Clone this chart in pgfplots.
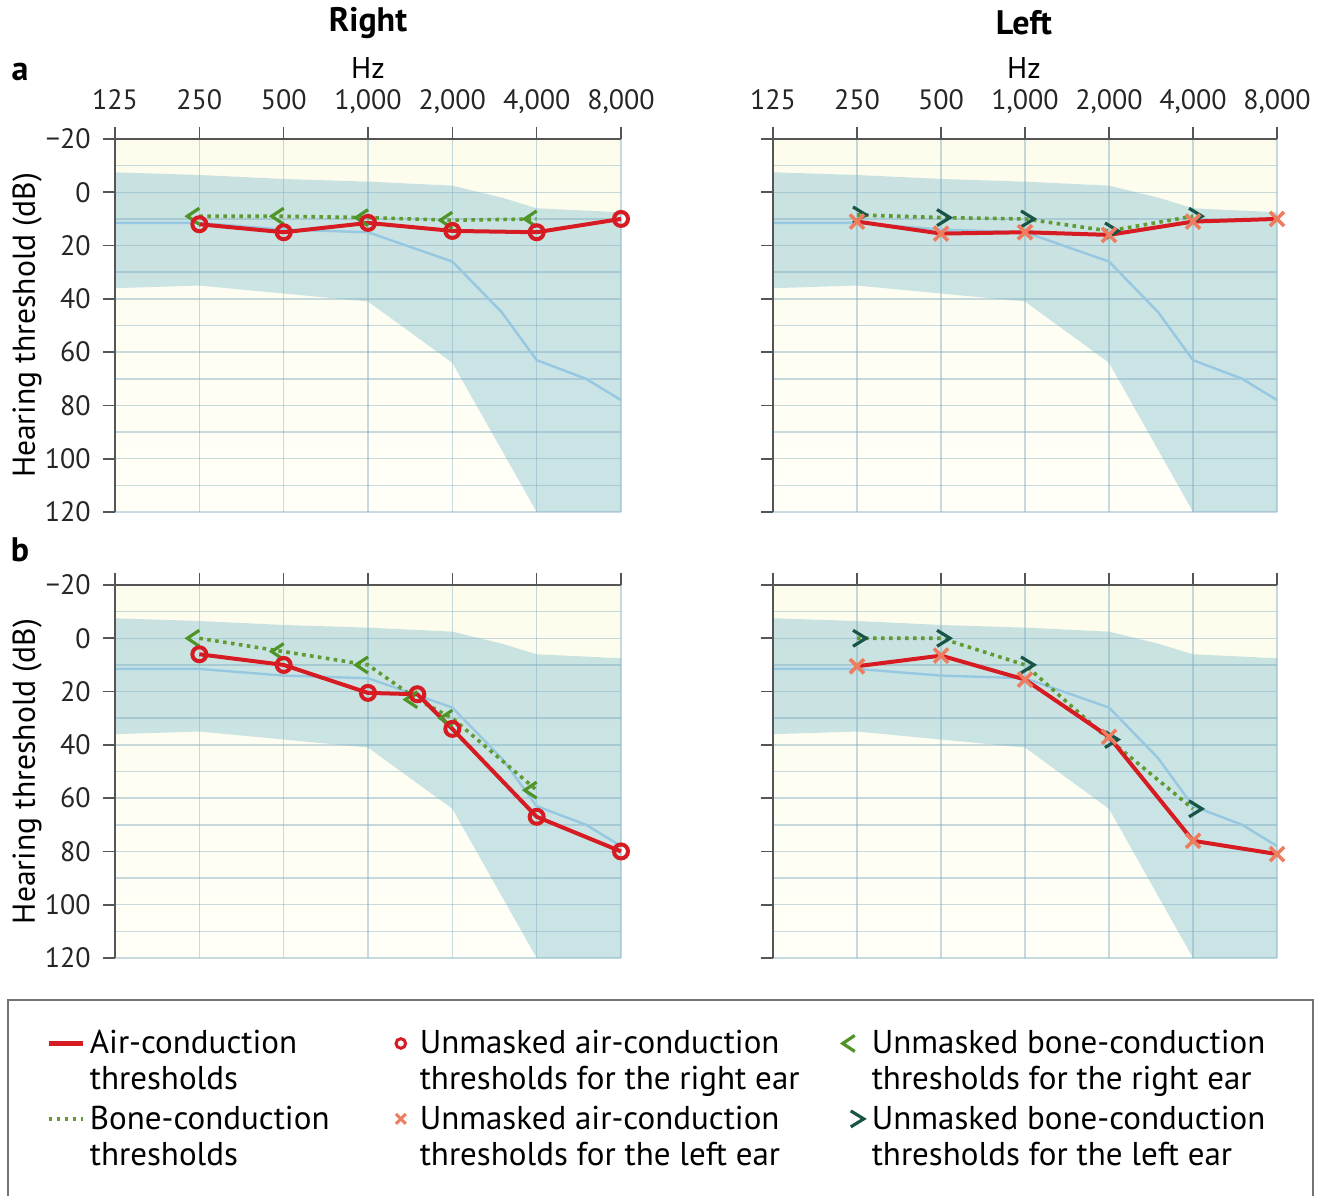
\documentclass[border=0pt]{standalone}
\usepackage{pgfplots}
\pgfplotsset{compat=1.18}
\usepackage{pgfplotstable}
\usepackage{fontspec}
\setmainfont{PT Sans}

\definecolor{redc}{RGB}{214,28,34}
\definecolor{creamc}{RGB}{255,250,222}
\definecolor{salmonc}{RGB}{238,125,95}
\definecolor{boneRc}{RGB}{78,148,38}
\definecolor{dotc}{RGB}{95,155,50}
\definecolor{boneLc}{RGB}{25,85,70}
\definecolor{bandc}{RGB}{160,206,216}
\definecolor{medc}{RGB}{150,200,225}
\definecolor{gridc}{RGB}{120,168,190}
\definecolor{axisc}{RGB}{85,85,85}
\definecolor{bgT}{RGB}{253,252,236}
\definecolor{bgB}{RGB}{255,255,248}

\pgfdeclareplotmark{bcR}{%
  \pgfpathmoveto{\pgfqpoint{0pt}{4pt}}%
  \pgfpathlineto{\pgfqpoint{-6pt}{0pt}}%
  \pgfpathlineto{\pgfqpoint{0pt}{-4pt}}%
  \pgfusepathqstroke}
\pgfdeclareplotmark{bcL}{%
  \pgfpathmoveto{\pgfqpoint{-2pt}{4pt}}%
  \pgfpathlineto{\pgfqpoint{4.5pt}{0pt}}%
  \pgfpathlineto{\pgfqpoint{-2pt}{-4pt}}%
  \pgfusepathqstroke}

\pgfplotstableread{
f db
125 -7.5
250 -6.5
500 -5
1000 -4
2000 -2.5
3000 2
4000 6
8000 7.5
8000 120
4000 120
2000 64
1000 41
500 38
250 35
125 36
}\bandtab
\pgfplotstableread{
f db
125 11.5
250 11.5
500 14
1000 15
2000 26
3000 45
4000 63
6000 70
8000 78
}\medtab
\pgfplotstableread{
f db
250 12
500 15
1000 11.5
2000 14.5
4000 15
8000 10
}\airAR
\pgfplotstableread{
f db
250 9
500 9
1000 9.5
2000 10.5
4000 10
}\boneAR
\pgfplotstableread{
f db
250 11
500 15.5
1000 15
2000 16
4000 11
8000 10
}\airAL
\pgfplotstableread{
f db
250 8.5
500 9.5
1000 10
2000 14.5
4000 9
}\boneAL
\pgfplotstableread{
f db
250 6
500 10
1000 20.5
1500 21
2000 34
4000 67
8000 80
}\airBR
\pgfplotstableread{
f db
250 0
500 5
1000 10
1500 23
2000 30
4000 57
}\boneBR
\pgfplotstableread{
f db
250 10.5
500 6.5
1000 15.5
2000 37
4000 76
8000 81
}\airBL
\pgfplotstableread{
f db
250 0
500 0
1000 10
2000 38
4000 64
}\boneBL

% legend text: width, lead space, first line, second line
\newcommand\legtxt[4]{\makebox[#1][l]{\hspace*{#2}\rule[-5pt]{0pt}{16pt}\smash{\rlap{\raisebox{-18pt}{#4}}}#3}}

\begin{document}
\begin{tikzpicture}
\path[use as bounding box] (0pt,0pt) rectangle (665.5pt,597.5pt);

% ===== a, right ear (frame)
\begin{axis}[at={(57.5pt,341.5pt)}, anchor=south west,
  scale only axis, width=253pt, height=186.5pt,
  xmode=log, log basis x=2, xmin=125, xmax=8000, ymin=-120, ymax=20,
  axis on top,
  xtick={125,250,500,1000,2000,4000,8000},
  ytick={-120,-100,-80,-60,-40,-20,0,20},
  minor ytick={-110,-90,-70,-50,-30,-10,10},
  grid=both,
  major grid style={draw=gridc, draw opacity=0.42, line width=0.75pt},
  minor grid style={draw=gridc, draw opacity=0.42, line width=0.75pt},
  axis line style={draw=none},
  tick align=outside, major tick length=6pt, minor tick length=0pt,
  xtick pos=right, ytick pos=left, xticklabel pos=right, yticklabel pos=left,
  every tick/.append style={draw=axisc, line width=0.8pt},
  tick label style={font=\fontsize{14}{16}\selectfont, text=black!85},
  xticklabel style={anchor=base, inner sep=0pt, yshift=8.5pt},
  yticklabel style={anchor=east, inner sep=0pt, xshift=-6pt},
  axis background/.style={shade, top color=bgT, bottom color=bgB},
  xticklabels={125,250,500,{1,000},{2,000},{4,000},{8,000}},
  yticklabels={120,100,80,60,40,20,0,−20}]
\addplot[draw=none, fill=bandc, fill opacity=0.55] table[x=f, y expr=-\thisrow{db}] {\bandtab};
\end{axis}
% ===== a, right ear (data)
\begin{axis}[at={(57.5pt,341.5pt)}, anchor=south west,
  scale only axis, width=253pt, height=186.5pt,
  xmode=log, log basis x=2, xmin=125, xmax=8000, ymin=-120, ymax=20,
  hide axis, clip=false]
\addplot[medc, line width=1.2pt] table[x=f, y expr=-\thisrow{db}] {\medtab};
\addplot[dotc, line width=1.8pt, dash pattern=on 1.8pt off 2.2pt, mark=bcR, mark options={solid, draw=boneRc, line width=1.6pt}] table[x=f, y expr=-\thisrow{db}] {\boneAR};
\addplot[redc, line width=2pt, mark=o, mark size=3.5pt, mark options={fill=creamc, draw=redc, line width=2pt}] table[x=f, y expr=-\thisrow{db}] {\airAR};
\draw[axisc, line width=1pt] (rel axis cs:0,0) -- (rel axis cs:0,1) -- (rel axis cs:1,1);
\end{axis}

% ===== a, left ear (frame)
\begin{axis}[at={(386.5pt,341.5pt)}, anchor=south west,
  scale only axis, width=252pt, height=186.5pt,
  xmode=log, log basis x=2, xmin=125, xmax=8000, ymin=-120, ymax=20,
  axis on top,
  xtick={125,250,500,1000,2000,4000,8000},
  ytick={-120,-100,-80,-60,-40,-20,0,20},
  minor ytick={-110,-90,-70,-50,-30,-10,10},
  grid=both,
  major grid style={draw=gridc, draw opacity=0.42, line width=0.75pt},
  minor grid style={draw=gridc, draw opacity=0.42, line width=0.75pt},
  axis line style={draw=none},
  tick align=outside, major tick length=6pt, minor tick length=0pt,
  xtick pos=right, ytick pos=left, xticklabel pos=right, yticklabel pos=left,
  every tick/.append style={draw=axisc, line width=0.8pt},
  tick label style={font=\fontsize{14}{16}\selectfont, text=black!85},
  xticklabel style={anchor=base, inner sep=0pt, yshift=8.5pt},
  yticklabel style={anchor=east, inner sep=0pt, xshift=-6pt},
  axis background/.style={shade, top color=bgT, bottom color=bgB},
  xticklabels={125,250,500,{1,000},{2,000},{4,000},{8,000}},
  yticklabels={}]
\addplot[draw=none, fill=bandc, fill opacity=0.55] table[x=f, y expr=-\thisrow{db}] {\bandtab};
\end{axis}
\begin{axis}[at={(386.5pt,341.5pt)}, anchor=south west,
  scale only axis, width=252pt, height=186.5pt,
  xmode=log, log basis x=2, xmin=125, xmax=8000, ymin=-120, ymax=20,
  hide axis, clip=false]
\addplot[medc, line width=1.2pt] table[x=f, y expr=-\thisrow{db}] {\medtab};
\addplot[dotc, line width=1.8pt, dash pattern=on 1.8pt off 2.2pt, mark=bcL, mark options={solid, draw=boneLc, line width=1.6pt}] table[x=f, y expr=-\thisrow{db}] {\boneAL};
\addplot[redc, line width=2pt, mark=x, mark size=5pt, mark options={draw=salmonc, line width=1.8pt}] table[x=f, y expr=-\thisrow{db}] {\airAL};
\draw[axisc, line width=1pt] (rel axis cs:0,0) -- (rel axis cs:0,1) -- (rel axis cs:1,1);
\end{axis}

% ===== b, right ear (frame)
\begin{axis}[at={(57.5pt,118.5pt)}, anchor=south west,
  scale only axis, width=253pt, height=186.5pt,
  xmode=log, log basis x=2, xmin=125, xmax=8000, ymin=-120, ymax=20,
  axis on top,
  xtick={125,250,500,1000,2000,4000,8000},
  ytick={-120,-100,-80,-60,-40,-20,0,20},
  minor ytick={-110,-90,-70,-50,-30,-10,10},
  grid=both,
  major grid style={draw=gridc, draw opacity=0.42, line width=0.75pt},
  minor grid style={draw=gridc, draw opacity=0.42, line width=0.75pt},
  axis line style={draw=none},
  tick align=outside, major tick length=6pt, minor tick length=0pt,
  xtick pos=right, ytick pos=left, xticklabel pos=right, yticklabel pos=left,
  every tick/.append style={draw=axisc, line width=0.8pt},
  tick label style={font=\fontsize{14}{16}\selectfont, text=black!85},
  xticklabel style={anchor=base, inner sep=0pt, yshift=8.5pt},
  yticklabel style={anchor=east, inner sep=0pt, xshift=-6pt},
  axis background/.style={shade, top color=bgT, bottom color=bgB},
  xticklabels={},
  yticklabels={120,100,80,60,40,20,0,−20}]
\addplot[draw=none, fill=bandc, fill opacity=0.55] table[x=f, y expr=-\thisrow{db}] {\bandtab};
\end{axis}
\begin{axis}[at={(57.5pt,118.5pt)}, anchor=south west,
  scale only axis, width=253pt, height=186.5pt,
  xmode=log, log basis x=2, xmin=125, xmax=8000, ymin=-120, ymax=20,
  hide axis, clip=false]
\addplot[medc, line width=1.2pt] table[x=f, y expr=-\thisrow{db}] {\medtab};
\addplot[dotc, line width=1.8pt, dash pattern=on 1.8pt off 2.2pt, mark=bcR, mark options={solid, draw=boneRc, line width=1.6pt}] table[x=f, y expr=-\thisrow{db}] {\boneBR};
\addplot[redc, line width=2pt, mark=o, mark size=3.5pt, mark options={fill=creamc, draw=redc, line width=2pt}] table[x=f, y expr=-\thisrow{db}] {\airBR};
\draw[axisc, line width=1pt] (rel axis cs:0,0) -- (rel axis cs:0,1) -- (rel axis cs:1,1);
\end{axis}

% ===== b, left ear (frame)
\begin{axis}[at={(386.5pt,118.5pt)}, anchor=south west,
  scale only axis, width=252pt, height=186.5pt,
  xmode=log, log basis x=2, xmin=125, xmax=8000, ymin=-120, ymax=20,
  axis on top,
  xtick={125,250,500,1000,2000,4000,8000},
  ytick={-120,-100,-80,-60,-40,-20,0,20},
  minor ytick={-110,-90,-70,-50,-30,-10,10},
  grid=both,
  major grid style={draw=gridc, draw opacity=0.42, line width=0.75pt},
  minor grid style={draw=gridc, draw opacity=0.42, line width=0.75pt},
  axis line style={draw=none},
  tick align=outside, major tick length=6pt, minor tick length=0pt,
  xtick pos=right, ytick pos=left, xticklabel pos=right, yticklabel pos=left,
  every tick/.append style={draw=axisc, line width=0.8pt},
  tick label style={font=\fontsize{14}{16}\selectfont, text=black!85},
  xticklabel style={anchor=base, inner sep=0pt, yshift=8.5pt},
  yticklabel style={anchor=east, inner sep=0pt, xshift=-6pt},
  axis background/.style={shade, top color=bgT, bottom color=bgB},
  xticklabels={}, yticklabels={}]
\addplot[draw=none, fill=bandc, fill opacity=0.55] table[x=f, y expr=-\thisrow{db}] {\bandtab};
\end{axis}
\begin{axis}[at={(386.5pt,118.5pt)}, anchor=south west,
  scale only axis, width=252pt, height=186.5pt,
  xmode=log, log basis x=2, xmin=125, xmax=8000, ymin=-120, ymax=20,
  hide axis, clip=false]
\addplot[medc, line width=1.2pt] table[x=f, y expr=-\thisrow{db}] {\medtab};
\addplot[dotc, line width=1.8pt, dash pattern=on 1.8pt off 2.2pt, mark=bcL, mark options={solid, draw=boneLc, line width=1.6pt}] table[x=f, y expr=-\thisrow{db}] {\boneBL};
\addplot[redc, line width=2pt, mark=x, mark size=5pt, mark options={draw=salmonc, line width=1.8pt}] table[x=f, y expr=-\thisrow{db}] {\airBL};
\draw[axisc, line width=1pt] (rel axis cs:0,0) -- (rel axis cs:0,1) -- (rel axis cs:1,1);
\end{axis}

% ===== legend
\draw[black!55, line width=0.8pt] (4pt,-5pt) rectangle (656.5pt,97.5pt);
\begin{axis}[at={(0pt,0pt)}, anchor=south west, scale only axis,
  width=665.5pt, height=97.5pt, xmin=0, xmax=1, ymin=0, ymax=1, hide axis,
  legend columns=3,
  legend cell align=left,
  legend style={at={(0.0345,0.847)}, anchor=north west, draw=none, fill=none,
    inner sep=0pt, column sep=2.5pt, row sep=24.5pt,
    font=\fontsize{16.5}{18}\selectfont, nodes={inner sep=0pt}}]
\addlegendimage{redc, line width=2.2pt}
\addlegendentry{\legtxt{150.5pt}{0pt}{Air-conduction}{thresholds}}
\addlegendimage{only marks, mark=o, mark size=2.4pt, mark options={fill=creamc, draw=redc, line width=1.5pt}}
\addlegendentry{\legtxt{213.5pt}{4.5pt}{Unmasked air-conduction}{thresholds for the right ear}}
\addlegendimage{only marks, mark=bcR, mark options={draw=boneRc, line width=1.6pt}}
\addlegendentry{\legtxt{220pt}{1.5pt}{Unmasked bone-conduction}{thresholds for the right ear}}
\addlegendimage{dotc, line width=1.8pt, dash pattern=on 1.8pt off 2.2pt}
\addlegendentry{\legtxt{150.5pt}{0pt}{Bone-conduction}{thresholds}}
\addlegendimage{only marks, mark=x, mark size=3.5pt, mark options={draw=salmonc, line width=1.5pt}}
\addlegendentry{\legtxt{213.5pt}{4.5pt}{Unmasked air-conduction}{thresholds for the left ear}}
\addlegendimage{only marks, mark=bcL, mark options={draw=boneLc, line width=1.6pt}}
\addlegendentry{\legtxt{220pt}{1.5pt}{Unmasked bone-conduction}{thresholds for the left ear}}
\end{axis}

% ===== titles and labels
\node[font=\fontsize{17}{20}\selectfont\bfseries] at (184pt,586pt) {Right};
\node[font=\fontsize{17}{20}\selectfont\bfseries] at (512pt,586pt) {Left};
\node[font=\fontsize{15}{17}\selectfont] at (184pt,563.5pt) {Hz};
\node[font=\fontsize{15}{17}\selectfont] at (512pt,563.5pt) {Hz};
\node[font=\fontsize{17}{19}\selectfont\bfseries] at (10pt,561.5pt) {a};
\node[font=\fontsize{17}{19}\selectfont\bfseries] at (10pt,322.5pt) {b};
\node[rotate=90, font=\fontsize{15.8}{18}\selectfont] at (13.5pt,434.75pt) {Hearing threshold (dB)};
\node[rotate=90, font=\fontsize{15.8}{18}\selectfont] at (13.5pt,211.75pt) {Hearing threshold (dB)};
\end{tikzpicture}
\end{document}
